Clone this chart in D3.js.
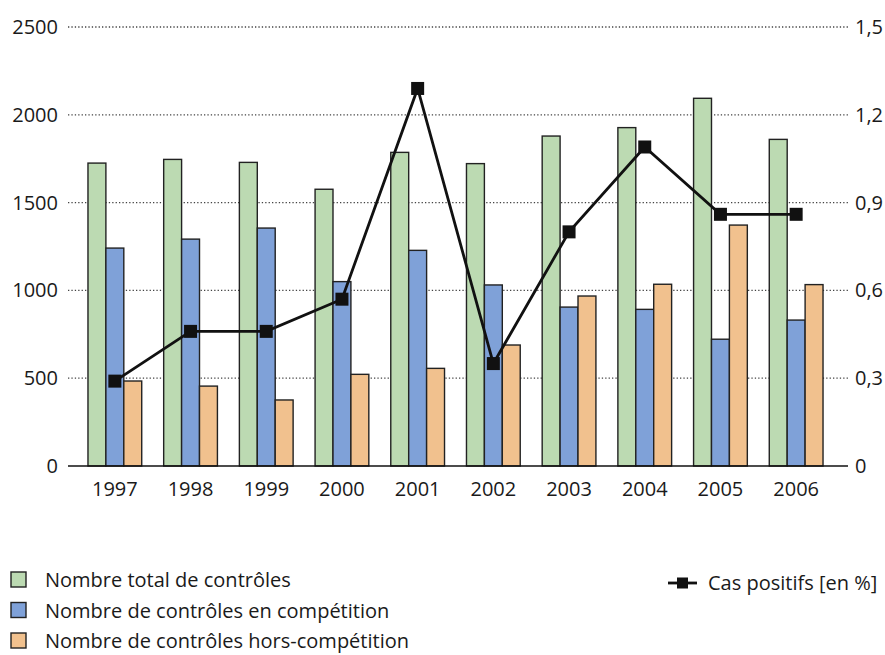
<!DOCTYPE html>
<html>
<head>
<meta charset="utf-8" />
<title>Contrôles antidopage 1997-2006</title>
<script src="https://cdn.jsdelivr.net/npm/d3@7"></script>
<style>
	body, html { margin: 0; background: #fff; }
	svg text { font-family: "Open Sans", "Noto Sans", sans-serif; fill: #1a1a1a; }
</style>
</head>
<body>
<svg id="chart" width="885" height="655"></svg>
<script>
	// data
	var years = ["1997", "1998", "1999", "2000", "2001", "2002", "2003", "2004", "2005", "2006"];
	var totalControls = [1725, 1746, 1729, 1576, 1786, 1722, 1879, 1927, 2094, 1860];
	var inCompetition = [1241, 1292, 1355, 1050, 1228, 1031, 905, 892, 722, 831];
	var outCompetition = [484, 455, 376, 522, 556, 689, 968, 1035, 1372, 1033];
	var positivePct = [0.29, 0.46, 0.46, 0.57, 1.29, 0.35, 0.80, 1.09, 0.86, 0.86];
	var leftTicks = [0, 500, 1000, 1500, 2000, 2500];
	var rightTicks = [0, 0.3, 0.6, 0.9, 1.2, 1.5];
	var seriesNames = ["Nombre total de contrôles", "Nombre de contrôles en compétition", "Nombre de contrôles hors-compétition"];
	var lineName = "Cas positifs [en %]";

	var colors = ["#bcdab2", "#7fa1d8", "#f1c18e"];
	var series = [totalControls, inCompetition, outCompetition];

	var svg = d3.select("#chart");
	var plotLeft = 68, plotRight = 848, plotTop = 27, plotBottom = 466;

	var x = d3.scaleBand().domain(years).range([77, 834]).paddingInner(0.29).paddingOuter(0.145);
	var xs = d3.scaleBand().domain([0, 1, 2]).range([0, x.bandwidth()]);
	var y = d3.scaleLinear().domain([0, 2500]).range([plotBottom, plotTop]);
	var y2 = d3.scaleLinear().domain([0, 1.5]).range([plotBottom, plotTop]);

	// dotted grid lines
	svg.append("g").selectAll("line")
		.data(leftTicks.slice(1))
		.join("line")
		.attr("x1", plotLeft).attr("x2", plotRight)
		.attr("y1", function(d) { return y(d); }).attr("y2", function(d) { return y(d); })
		.attr("stroke", "#444").attr("stroke-width", 1.3)
		.attr("stroke-dasharray", "1.3,2.1");

	// left labels
	svg.append("g").selectAll("text")
		.data(leftTicks)
		.join("text")
		.attr("x", 58).attr("y", function(d) { return y(d) + 7; })
		.attr("text-anchor", "end").attr("font-size", 20)
		.text(function(d) { return d; });

	// right labels (french decimal comma)
	svg.append("g").selectAll("text")
		.data(rightTicks)
		.join("text")
		.attr("x", 855).attr("y", function(d) { return y2(d) + 7; })
		.attr("font-size", 20)
		.text(function(d) { return d === 0 ? "0" : d3.format(".1f")(d).replace(".", ","); });

	// bars
	var groups = svg.append("g").selectAll("g")
		.data(years)
		.join("g")
		.attr("transform", function(d) { return "translate(" + x(d) + ",0)"; });

	groups.selectAll("rect")
		.data(function(d, i) { return series.map(function(s, k) { return { k: k, v: s[i] }; }); })
		.join("rect")
		.attr("x", function(d) { return xs(d.k); })
		.attr("width", xs.bandwidth())
		.attr("y", function(d) { return y(d.v); })
		.attr("height", function(d) { return plotBottom - y(d.v); })
		.attr("fill", function(d) { return colors[d.k]; })
		.attr("stroke", "#222").attr("stroke-width", 1.4);

	// baseline
	svg.append("line")
		.attr("x1", plotLeft).attr("x2", plotRight)
		.attr("y1", plotBottom).attr("y2", plotBottom)
		.attr("stroke", "#111").attr("stroke-width", 1.6);

	// year labels
	svg.append("g").selectAll("text")
		.data(years)
		.join("text")
		.attr("x", function(d) { return x(d) + x.bandwidth() / 2; })
		.attr("y", 496)
		.attr("text-anchor", "middle").attr("font-size", 20)
		.text(function(d) { return d; });

	// positive cases line
	var line = d3.line()
		.x(function(d, i) { return x(years[i]) + x.bandwidth() / 2; })
		.y(function(d) { return y2(d); });

	svg.append("path")
		.datum(positivePct)
		.attr("d", line)
		.attr("fill", "none").attr("stroke", "#111").attr("stroke-width", 2.8);

	svg.append("g").selectAll("rect")
		.data(positivePct)
		.join("rect")
		.attr("x", function(d, i) { return x(years[i]) + x.bandwidth() / 2 - 6.5; })
		.attr("y", function(d) { return y2(d) - 6.5; })
		.attr("width", 13).attr("height", 13)
		.attr("fill", "#111");

	// legend
	var legend = svg.append("g").selectAll("g")
		.data(seriesNames)
		.join("g")
		.attr("transform", function(d, i) { return "translate(11," + (572 + i * 30.5) + ")"; });

	legend.append("rect")
		.attr("width", 15).attr("height", 15)
		.attr("fill", function(d, i) { return colors[i]; })
		.attr("stroke", "#222").attr("stroke-width", 1.4);

	legend.append("text")
		.attr("x", 34).attr("y", 15)
		.attr("font-size", 20)
		.text(function(d) { return d; });

	var lg = svg.append("g").attr("transform", "translate(668,583)");
	lg.append("line").attr("x1", 0).attr("x2", 29).attr("stroke", "#111").attr("stroke-width", 2.8);
	lg.append("rect").attr("x", 9).attr("y", -5.5).attr("width", 11).attr("height", 11).attr("fill", "#111");
	lg.append("text").attr("x", 40).attr("y", 7).attr("font-size", 20).text(lineName);
</script>
</body>
</html>
